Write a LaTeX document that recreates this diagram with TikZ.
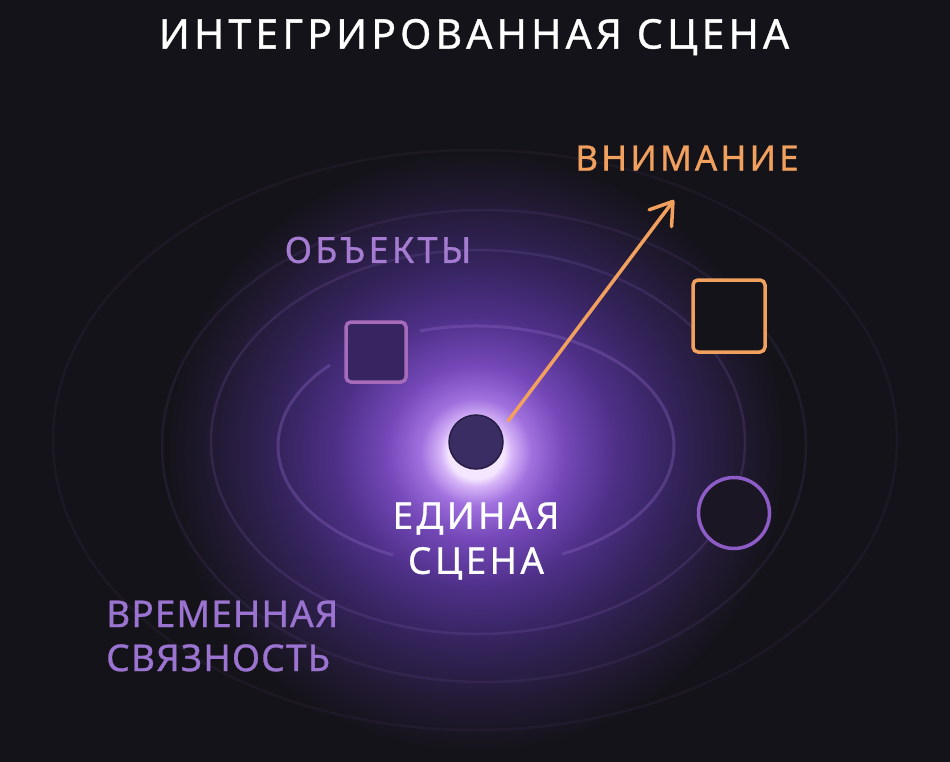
\documentclass[tikz,border=0pt]{standalone}
\usepackage{fontspec}
\setmainfont{Noto Sans}
\newfontfamily\capsfont[LetterSpace=9,FakeBold=0.8]{Noto Sans}
\newfontfamily\titlefont[LetterSpace=10,FakeBold=0.8]{Noto Sans}
\newfontfamily\timefont[LetterSpace=3,FakeBold=0.8]{Noto Sans}
\usetikzlibrary{arrows.meta}

\definecolor{bgcol}{HTML}{141319}
\definecolor{attncol}{HTML}{F2A05E}
\definecolor{objcol}{HTML}{A57CD2}
\definecolor{timecol}{HTML}{9B73D0}
\definecolor{sqcol}{HTML}{A66BBA}
\definecolor{ringcol}{HTML}{8D5CC6}
\definecolor{orbitcol}{HTML}{8A66C0}
\definecolor{corecol}{HTML}{3A2D64}
\definecolor{coreedge}{HTML}{261D44}
\definecolor{glowa}{HTML}{F4E6FF}
\definecolor{glowb}{HTML}{D6B4F8}
\definecolor{glowc}{HTML}{A070DE}
\definecolor{glowd}{HTML}{7448B8}
\definecolor{glowe}{HTML}{4E3088}
\definecolor{glowf}{HTML}{33235A}
\definecolor{glowg}{HTML}{221A34}

\pgfdeclareradialshading{sceneglow}{\pgfpoint{0bp}{0bp}}{%
  color(0bp)=(glowa); color(2.1bp)=(glowa); color(2.7bp)=(glowb);
  color(4.2bp)=(glowc); color(6.8bp)=(glowd); color(10.6bp)=(glowe);
  color(15.2bp)=(glowf); color(19.7bp)=(glowg); color(23.5bp)=(bgcol);
  color(50bp)=(bgcol)}

\begin{document}
\begin{tikzpicture}[x=1pt,y=-1pt]
\tikzset{label/.style = {inner sep=0pt, font=\capsfont\fontsize{36}{44}\selectfont}}
\tikzset{orbit/.style = {draw=orbitcol, line width=2.5pt}}
\tikzset{token/.style = {shape=rectangle, rounded corners=5pt, inner sep=0pt, line width=3.5pt}}
\tikzset{edge/.style = {-{Straight Barb[length=21pt,width=28pt,round]}, line cap=round, line width=3.5pt}}

\useasboundingbox (0,0) rectangle (950,762);
\fill[bgcol] (0,0) rectangle (950,762);
\clip (0,0) rectangle (950,762);

% glow and orbits
\shade[shading=sceneglow] (476,452) ellipse [x radius=330, y radius=320];
\coordinate (orbitc) at (476,446);
\draw[orbit, opacity=0.35, line width=3pt] (orbitc) ++(114.8:198 and 120)
  arc[start angle=114.8, end angle=222.5, x radius=198, y radius=120];
\draw[orbit, opacity=0.35, line width=3pt] (orbitc) ++(253.6:198 and 120)
  arc[start angle=253.6, end angle=424.3, x radius=198, y radius=120];
\draw[orbit, opacity=0.18] (478,442) ellipse [x radius=267, y radius=192];
\draw[orbit, opacity=0.11] (484,446) ellipse [x radius=322, y radius=236];
\draw[orbit, opacity=0.07] (475,440) ellipse [x radius=422, y radius=290];

%nodes
\node[shape=circle, fill=corecol, draw=coreedge, line width=1.5pt, minimum size=54pt, inner sep=0pt] (core) at (476,442) {};
\node[token, draw=sqcol, fill=glowf!85!glowe, minimum size=60pt] (obj) at (376,352) {};
\node[token, draw=attncol, fill=bgcol, minimum size=72pt] (attnbox) at (729,316) {};
\node[shape=circle, draw=ringcol, fill=bgcol!60!glowg, line width=3.5pt, minimum size=71pt, inner sep=0pt] (ring) at (734,513) {};

%labels
\node[label, text=white, font=\titlefont\fontsize{41}{48}\selectfont] (title) at (474,37) {ИНТЕГРИРОВАННАЯ СЦЕНА};
\node[label, text=attncol, font=\capsfont\fontsize{35}{44}\selectfont] (attn) at (687,158) {ВНИМАНИЕ};
\node[label, text=objcol] (objlab) at (378,250) {ОБЪЕКТЫ};
\node[label, text=white, align=center, font=\capsfont\fontsize{37}{45}\selectfont] (scene) at (476,541) {ЕДИНАЯ\\СЦЕНА};
\node[label, text=timecol, align=left, anchor=west, font=\timefont\fontsize{37}{44}\selectfont] (time) at (106,636) {ВРЕМЕННАЯ\\СВЯЗНОСТЬ};

%edges
\coordinate (attntip) at (674,200);
\draw[edge, attncol, shorten <=12pt] (core.25) to (attntip);
\end{tikzpicture}
\end{document}
